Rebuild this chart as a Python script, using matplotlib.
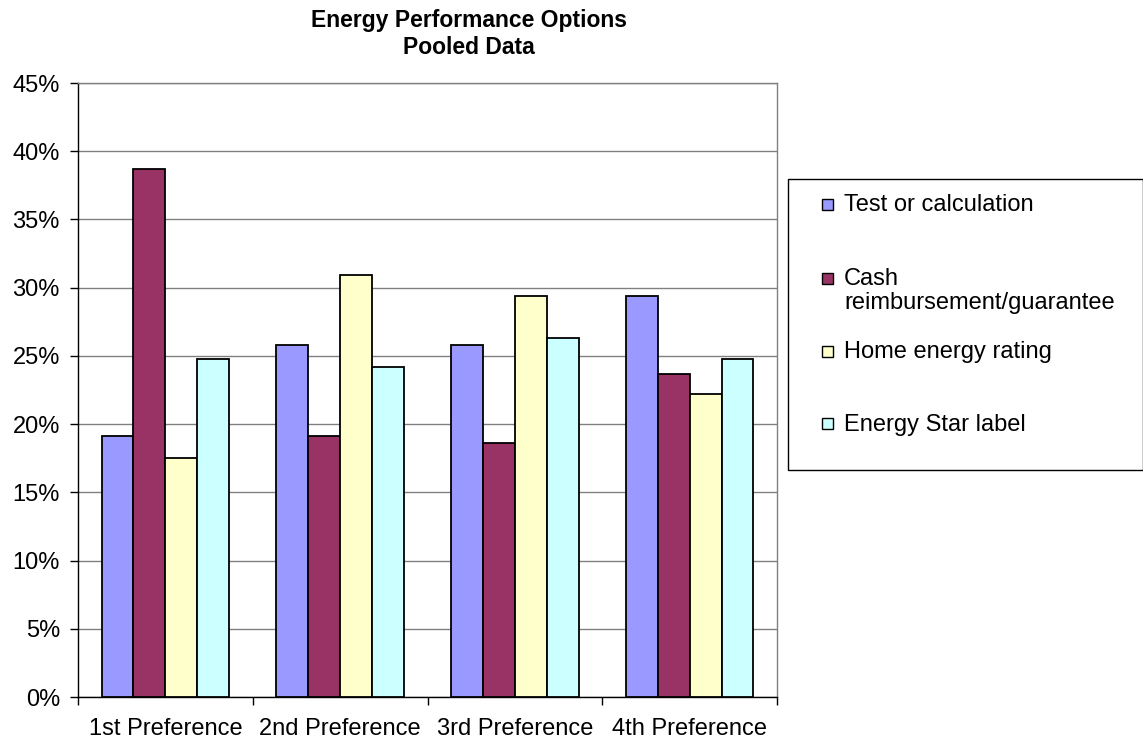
import matplotlib
matplotlib.use("Agg")
import matplotlib.pyplot as plt
from matplotlib.patches import Rectangle
import numpy as np

categories = ["1st Preference", "2nd Preference", "3rd Preference", "4th Preference"]
series_names = ["Test or calculation", "Cash\nreimbursement/guarantee",
                "Home energy rating", "Energy Star label"]
test_calc = [19.1, 25.8, 25.8, 29.4]
cash_reimb = [38.7, 19.1, 18.6, 23.7]
home_rating = [17.5, 30.9, 29.4, 22.2]
energy_star = [24.8, 24.2, 26.3, 24.8]
yticks = [0, 5, 10, 15, 20, 25, 30, 35, 40, 45]
colors = ["#9999FF", "#993366", "#FFFFCC", "#CCFFFF"]

plt.rcParams['font.family'] = ['Liberation Sans', 'DejaVu Sans']

W, H = 1143, 742
fig = plt.figure(figsize=(W / 100, H / 100), dpi=100)
ax = fig.add_axes([78 / W, 1 - 697 / H, 699 / W, 614 / H])

series = [test_calc, cash_reimb, home_rating, energy_star]
x = np.arange(len(categories))
bw = 0.1826
for j, (vals, c) in enumerate(zip(series, colors)):
    ax.bar(x + (j - 1.5) * bw, vals, width=bw, color=c, edgecolor='black',
           linewidth=1.3, zorder=3)

ax.set_xlim(-0.5, len(categories) - 0.5)
ax.set_ylim(0, 45)
ax.set_yticks(yticks)
ax.set_yticklabels([f"{v}%" for v in yticks], fontsize=17)
ax.yaxis.grid(True, color='#808080', linewidth=1.0, zorder=0)
ax.set_axisbelow(True)

ax.set_xticks(x)
ax.set_xticklabels(categories, fontsize=17)
ax.tick_params(axis='x', which='major', length=0, pad=15)
ax.set_xticks(np.arange(-0.5, len(categories) + 0.5, 1), minor=True)
ax.tick_params(axis='x', which='minor', length=6, width=1, color='black', direction='out')
ax.tick_params(axis='y', length=6, width=1, direction='out', pad=7)

for s in ['top', 'right']:
    ax.spines[s].set_color('#808080')
    ax.spines[s].set_linewidth(1.0)
for s in ['left', 'bottom']:
    ax.spines[s].set_color('black')
    ax.spines[s].set_linewidth(1.0)

fig.text(469 / W, 1 - 34 / H, "Energy Performance Options\nPooled Data",
         ha='center', va='center', fontsize=16.5, fontweight='bold')

# legend box
lx0, ly0, lx1, ly1 = 788, 179, 1143, 470
fig.patches.append(Rectangle((lx0 / W, 1 - ly1 / H), (lx1 - lx0) / W, (ly1 - ly0) / H,
                             transform=fig.transFigure, facecolor='white',
                             edgecolor='black', linewidth=1.0))
entry_y = [204, 278, 351, 424]
for name, c, yy in zip(series_names, colors, entry_y):
    sq = 11
    fig.patches.append(Rectangle((822 / W, 1 - (yy + sq / 2) / H), sq / W, sq / H,
                                 transform=fig.transFigure, facecolor=c,
                                 edgecolor='black', linewidth=1.0))
    fig.text(844 / W, 1 - (yy - 10) / H, name, ha='left', va='top', fontsize=17,
             linespacing=1.1)

fig.savefig("out.png", dpi=100)
